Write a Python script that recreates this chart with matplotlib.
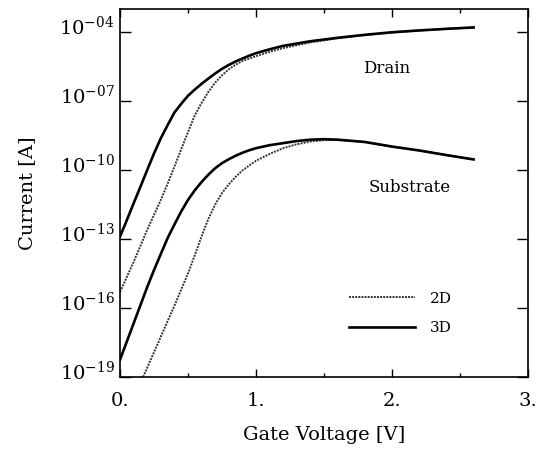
import numpy as np
import matplotlib
matplotlib.use("Agg")
import matplotlib.pyplot as plt
from matplotlib.ticker import NullLocator, MultipleLocator
from matplotlib.transforms import ScaledTranslation

plt.rcParams['font.family'] = 'DejaVu Serif'
plt.rcParams['mathtext.fontset'] = 'dejavuserif'

# gate voltage [V] and log10 of current [A]
vg = [0.0, 0.05, 0.1, 0.15, 0.2, 0.25, 0.3, 0.35, 0.4, 0.45, 0.5, 0.55, 0.6, 0.65, 0.7,
      0.75, 0.8, 0.85, 0.9, 0.95, 1.0, 1.1, 1.2, 1.3, 1.4, 1.6, 1.8, 2.0, 2.2, 2.4, 2.6]
drain_3d = [-12.9, -12.18, -11.45, -10.73, -10.0, -9.28, -8.62, -8.05, -7.5, -7.12, -6.77,
            -6.5, -6.25, -6.02, -5.8, -5.6, -5.43, -5.28, -5.15, -5.03, -4.92, -4.75, -4.6,
            -4.5, -4.4, -4.25, -4.12, -4.01, -3.93, -3.86, -3.8]
drain_2d = [-15.3, -14.65, -14.0, -13.3, -12.6, -11.95, -11.3, -10.6, -9.85, -9.1, -8.35,
            -7.62, -7.08, -6.6, -6.2, -5.88, -5.62, -5.42, -5.26, -5.15, -5.05, -4.86, -4.7,
            -4.57, -4.45, -4.27, -4.13, -4.02, -3.93, -3.86, -3.8]

vg_sub = [0.0, 0.05, 0.1, 0.15, 0.2, 0.25, 0.3, 0.35, 0.4, 0.45, 0.5, 0.55, 0.6, 0.65, 0.7,
          0.75, 0.8, 0.85, 0.9, 0.95, 1.0, 1.1, 1.2, 1.3, 1.4, 1.5, 1.6, 1.8, 2.0, 2.2, 2.4, 2.6]
sub_3d = [-18.25, -17.46, -16.67, -15.88, -15.09, -14.35, -13.65, -12.96, -12.37, -11.8, -11.3,
          -10.88, -10.52, -10.2, -9.92, -9.7, -9.53, -9.38, -9.25, -9.14, -9.05, -8.92, -8.83,
          -8.74, -8.68, -8.66, -8.68, -8.78, -8.98, -9.15, -9.35, -9.54]
vg_sub2d = [0.17, 0.2, 0.25, 0.3, 0.35, 0.4, 0.45, 0.5, 0.55, 0.6, 0.65, 0.7, 0.75, 0.8, 0.85,
            0.9, 0.95, 1.0, 1.1, 1.2, 1.3, 1.4, 1.5, 1.6, 1.8, 2.0, 2.2, 2.4, 2.6]
sub_2d = [-19.0, -18.6, -17.92, -17.25, -16.57, -15.9, -15.2, -14.5, -13.7, -12.88, -12.12,
          -11.5, -11.0, -10.62, -10.3, -10.02, -9.8, -9.6, -9.3, -9.05, -8.88, -8.76, -8.7,
          -8.69, -8.78, -8.98, -9.15, -9.35, -9.54]

y_exps = [-4, -7, -10, -13, -16, -19]
x_ticks = [0, 1, 2, 3]
x_labels = ['0.', '1.', '2.', '3.']

fig = plt.figure(figsize=(5.44, 4.53), dpi=100)
ax = fig.add_axes([0.2206, 0.1678, 0.75, 0.8122])

dot = dict(color='#333333', lw=1.4, ls=(0, (1, 0.6)))
sol = dict(color='black', lw=1.9)

l2d, = ax.semilogy(vg, 10.0 ** np.array(drain_2d), **dot)
l3d, = ax.semilogy(vg, 10.0 ** np.array(drain_3d), **sol)
ax.semilogy(vg_sub2d, 10.0 ** np.array(sub_2d), **dot)
ax.semilogy(vg_sub, 10.0 ** np.array(sub_3d), **sol)

ax.set_xlim(0, 3)
ax.set_ylim(1e-19, 1e-3)
ax.set_xticks(x_ticks)
ax.set_xticklabels(x_labels, fontsize=14)
ax.xaxis.set_minor_locator(MultipleLocator(0.5))
ax.set_yticks([10.0 ** e for e in y_exps])
ax.set_yticklabels([r'$10^{-%02d}$' % (-e) for e in y_exps], fontsize=14)
ax.yaxis.set_minor_locator(NullLocator())
ax.tick_params(which='both', direction='in', top=True, right=True, width=1)
ax.tick_params(axis='y', which='major', length=8, pad=4)
ax.tick_params(axis='x', which='major', length=6, pad=11)
ax.tick_params(axis='x', which='minor', length=3)
for sp in ax.spines.values():
    sp.set_linewidth(1.2)

# the y labels sit a little above their ticks in the original
off = ScaledTranslation(0, 5 / 72, fig.dpi_scale_trans)
for lab in ax.get_yticklabels():
    lab.set_transform(lab.get_transform() + off)

ax.set_xlabel('Gate Voltage [V]', fontsize=14, labelpad=11)
ax.set_ylabel('Current [A]', fontsize=14, labelpad=17)

ax.text(1.96, 10 ** -5.57, 'Drain', fontsize=12, ha='center', va='center')
ax.text(2.13, 10 ** -10.74, 'Substrate', fontsize=12, ha='center', va='center')

ax.legend([l2d, l3d], ['2D', '3D'], frameon=False, fontsize=11, loc='upper left',
          bbox_to_anchor=(0.561, 0.232), borderaxespad=0, borderpad=0,
          handlelength=4.3, handletextpad=1.0, labelspacing=1.0)

fig.savefig('out.png', dpi=100)
